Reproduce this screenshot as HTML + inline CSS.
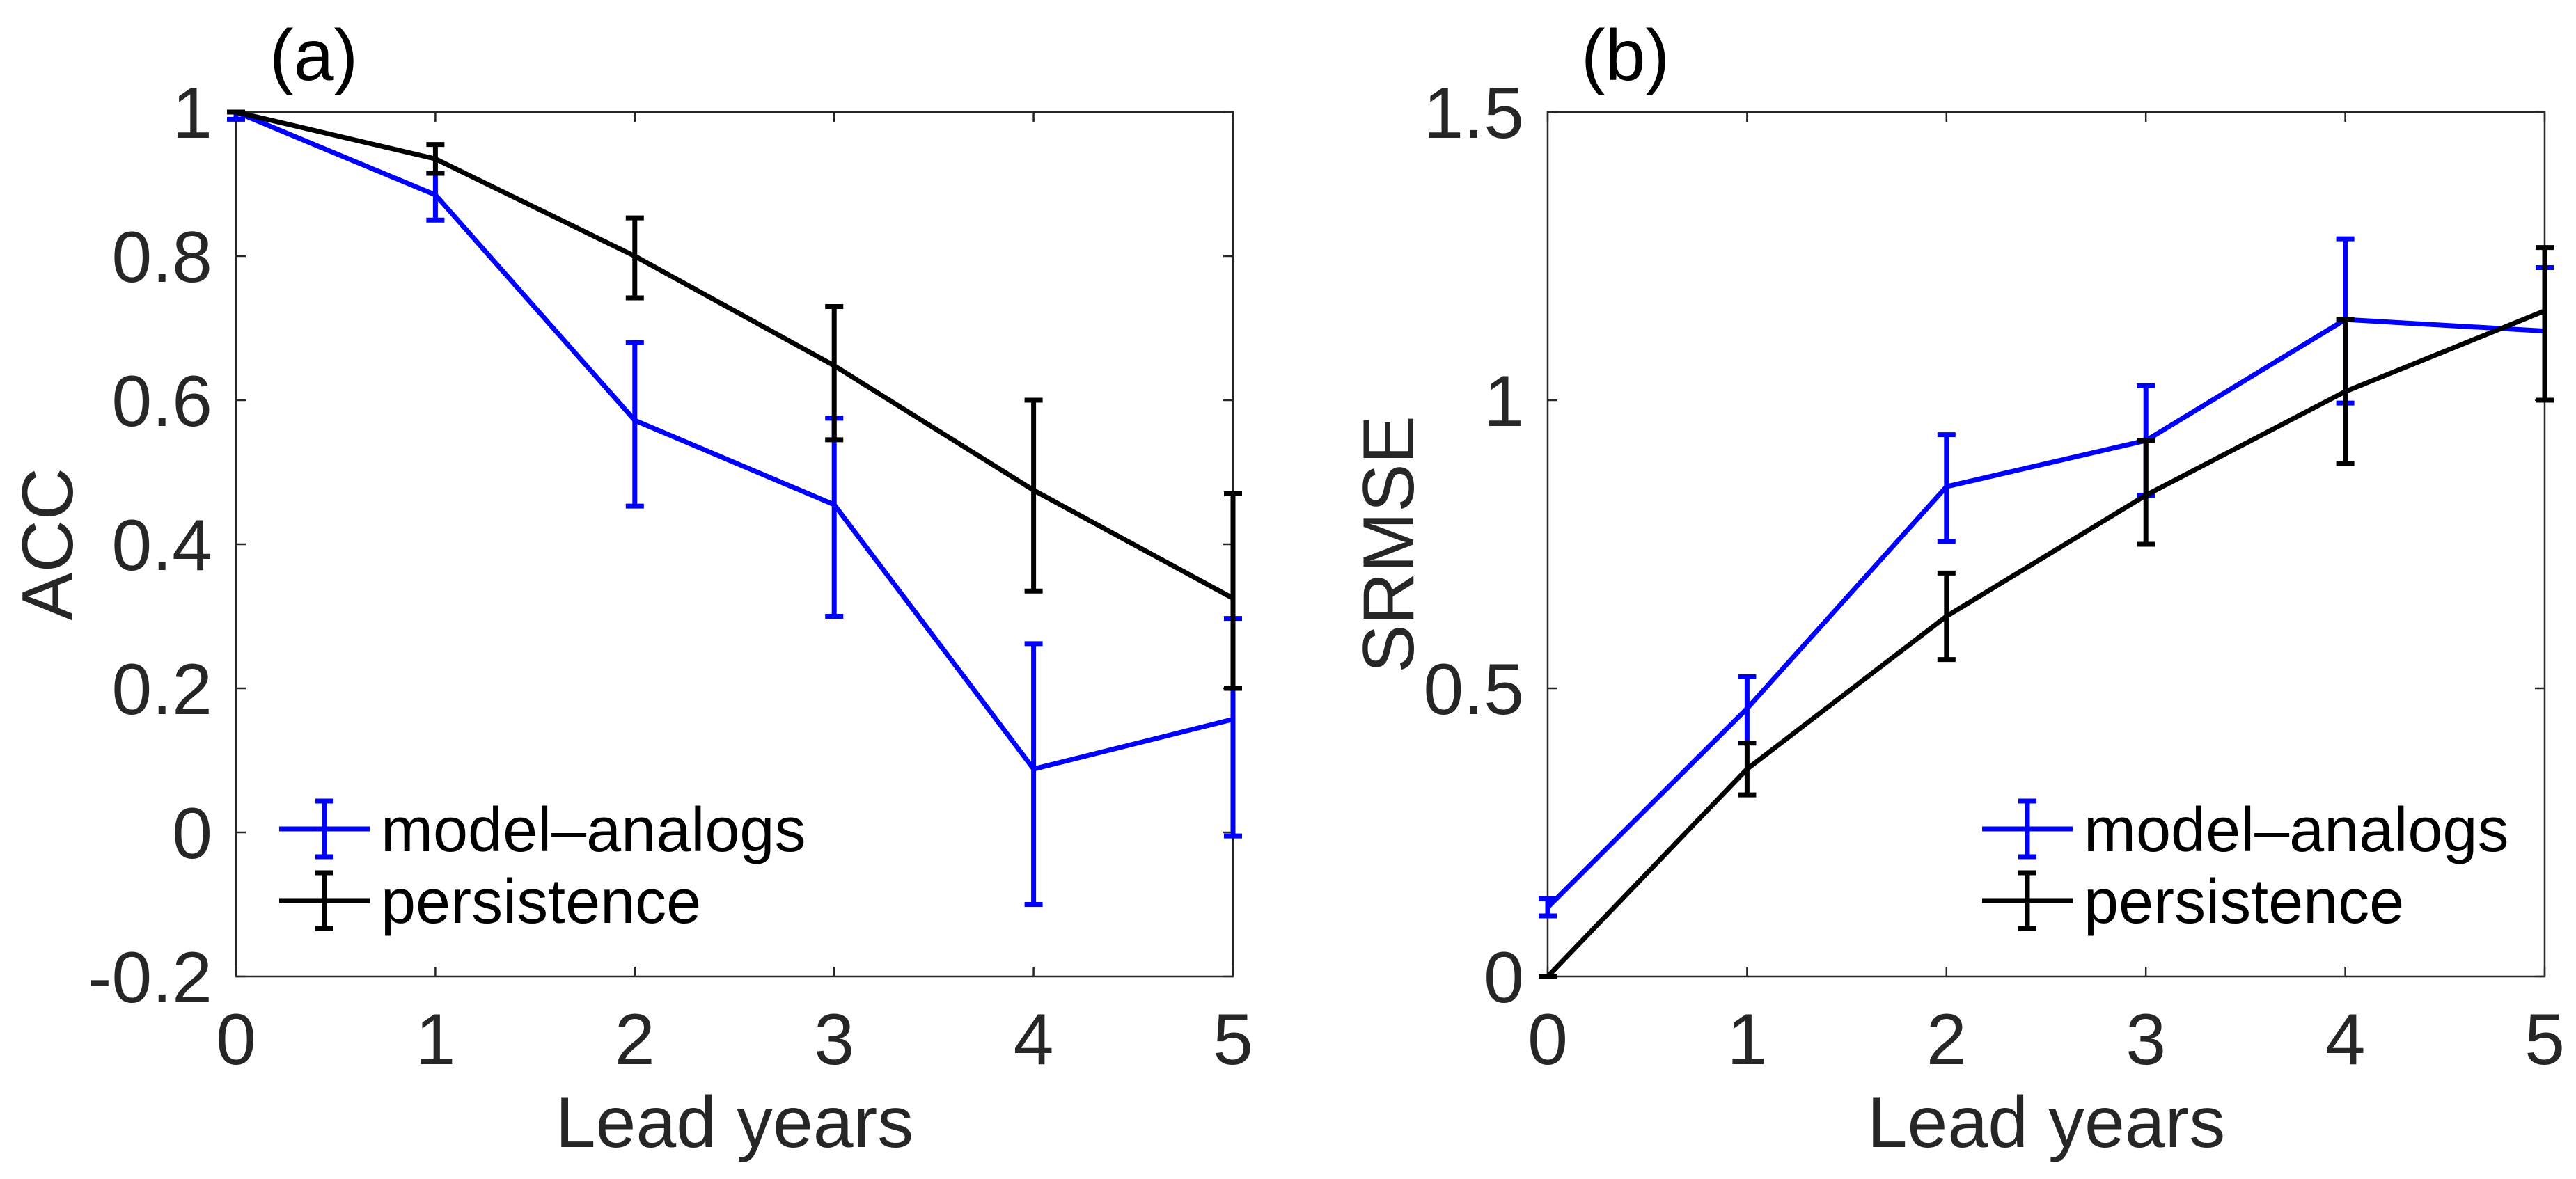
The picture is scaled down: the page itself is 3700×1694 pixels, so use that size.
<!DOCTYPE html>
<html><head><meta charset="utf-8"><style>
html,body{margin:0;padding:0;background:#fff;}
svg{display:block;font-family:"Liberation Sans",Arial,sans-serif;}
</style></head><body>
<svg id="fig" width="3700" height="1694" viewBox="0 0 3700 1694" xmlns="http://www.w3.org/2000/svg"></svg>
<script>
// Panel (a) ACC
const leadYears = [0,1,2,3,4,5];
const accModel = [1.0,0.885,0.572,0.455,0.088,0.157];
const accModelLo = [0.99,0.85,0.453,0.30,-0.10,-0.005];
const accModelHi = [1.0,0.915,0.68,0.575,0.262,0.297];
const accPers = [1.0,0.935,0.80,0.648,0.475,0.325];
const accPersLo = [1.0,0.915,0.742,0.545,0.335,0.20];
const accPersHi = [1.0,0.955,0.853,0.73,0.60,0.47];
const accTicks = [-0.2,0,0.2,0.4,0.6,0.8,1];
const accTickLabels = ["-0.2","0","0.2","0.4","0.6","0.8","1"];
// Panel (b) SRMSE
const srmseModel = [0.12,0.465,0.85,0.93,1.14,1.12];
const srmseModelLo = [0.105,0.405,0.755,0.835,0.995,1.0];
const srmseModelHi = [0.135,0.52,0.94,1.025,1.28,1.23];
const srmsePers = [0,0.36,0.625,0.835,1.015,1.155];
const srmsePersLo = [0,0.315,0.55,0.75,0.89,1.0];
const srmsePersHi = [0,0.405,0.70,0.93,1.14,1.265];
const srmseTicks = [0,0.5,1,1.5];
const srmseTickLabels = ["0","0.5","1","1.5"];
const xTickLabels = ["0","1","2","3","4","5"];

const NS="http://www.w3.org/2000/svg";
const svg=document.getElementById('fig');
function mk(tag,attrs,parent){const e=document.createElementNS(NS,tag);for(const k in attrs)e.setAttribute(k,attrs[k]);(parent||svg).appendChild(e);return e;}

function panel(opt){
  const g=mk('g',{});
  
  
  const L=opt.x0,R=opt.x0+1432,T=161,B=1403;
  const xs=v=>L+(v-0)/(5-0)*(R-L);
  const ys=v=>B-(v-opt.ymin)/(opt.ymax-opt.ymin)*(B-T);
  const ax='#262626';
  const box=mk('rect',{x:L,y:T,width:R-L,height:B-T,fill:'none',stroke:ax,'stroke-width':2.5},g);
  
  
  leadYears.forEach((v,i)=>{
    const x=xs(v);
    mk('line',{x1:x,y1:B,x2:x,y2:B-14,stroke:ax,'stroke-width':2.5},g);
    mk('line',{x1:x,y1:T,x2:x,y2:T+14,stroke:ax,'stroke-width':2.5},g);
    const t=mk('text',{x:x,y:1529,'font-size':104,'text-anchor':'middle',fill:ax},g);
    t.textContent=xTickLabels[i];
    
    
  });
  opt.ticks.forEach((v,i)=>{
    const y=ys(v);
    mk('line',{x1:L,y1:y,x2:L+14,y2:y,stroke:ax,'stroke-width':2.5},g);
    mk('line',{x1:R,y1:y,x2:R-14,y2:y,stroke:ax,'stroke-width':2.5},g);
    const t=mk('text',{x:L-34,y:y+37,'font-size':104,'text-anchor':'end',fill:ax},g);
    t.textContent=opt.tickLabels[i];
    
    
  });
  const xl=mk('text',{x:(L+R)/2,y:1648,'font-size':104,'text-anchor':'middle',fill:ax},g);
  xl.textContent='Lead years';
  
  
  const yl=mk('text',{x:0,y:0,'font-size':104,'text-anchor':'middle',fill:ax,transform:`translate(${opt.ylx},782) rotate(-90)`},g);
  yl.textContent=opt.ylabel;
  
  
  const pl=mk('text',{x:L+48,y:115,'font-size':104,fill:'#000'},g);
  pl.textContent=opt.label;
  
  
  opt.series.forEach(s=>{
    const sg=mk('g',{},g);
    
    
    const pts=leadYears.map((v,i)=>xs(v)+','+ys(s.v[i])).join(' ');
    const pl2=mk('polyline',{points:pts,fill:'none',stroke:s.c,'stroke-width':7,'stroke-linejoin':'round'},sg);
    
    
    leadYears.forEach((v,i)=>{
      const x=xs(v),y1=ys(s.lo[i]),y2=ys(s.hi[i]);
      const eb=mk('path',{d:`M${x},${y1}V${y2}M${x-13},${y1}H${x+13}M${x-13},${y2}H${x+13}`,stroke:s.c,'stroke-width':7,fill:'none'},sg);
      
      
    });
  });
  const lg=mk('g',{},g);
  
  
  opt.series.forEach((s,k)=>{
    const y=1191+k*103, lx=opt.legX;
    const e=mk('g',{},lg);
    
    
    mk('path',{d:`M${lx},${y}H${lx+130}M${lx+65},${y-40}V${y+40}M${lx+52},${y-40}H${lx+78}M${lx+52},${y+40}H${lx+78}`,stroke:s.c,'stroke-width':7,fill:'none'},e);
    const t=mk('text',{x:lx+146,y:y+32,'font-size':90,fill:'#000'},e);
    t.textContent=s.label;
  });
}
panel({name:'panel-a-acc',x0:339,ymin:-0.2,ymax:1,ticks:accTicks,tickLabels:accTickLabels,ylabel:'ACC',ylx:104,label:'(a)',legX:401,
  series:[{name:'model-analogs-series',label:'model\u2013analogs',c:'#0000ff',v:accModel,lo:accModelLo,hi:accModelHi},
          {name:'persistence-series',label:'persistence',c:'#000000',v:accPers,lo:accPersLo,hi:accPersHi}]});
panel({name:'panel-b-srmse',x0:2223,ymin:0,ymax:1.5,ticks:srmseTicks,tickLabels:srmseTickLabels,ylabel:'SRMSE',ylx:2030,label:'(b)',legX:2847,
  series:[{name:'model-analogs-series',label:'model\u2013analogs',c:'#0000ff',v:srmseModel,lo:srmseModelLo,hi:srmseModelHi},
          {name:'persistence-series',label:'persistence',c:'#000000',v:srmsePers,lo:srmsePersLo,hi:srmsePersHi}]});
</script>
</body></html>
